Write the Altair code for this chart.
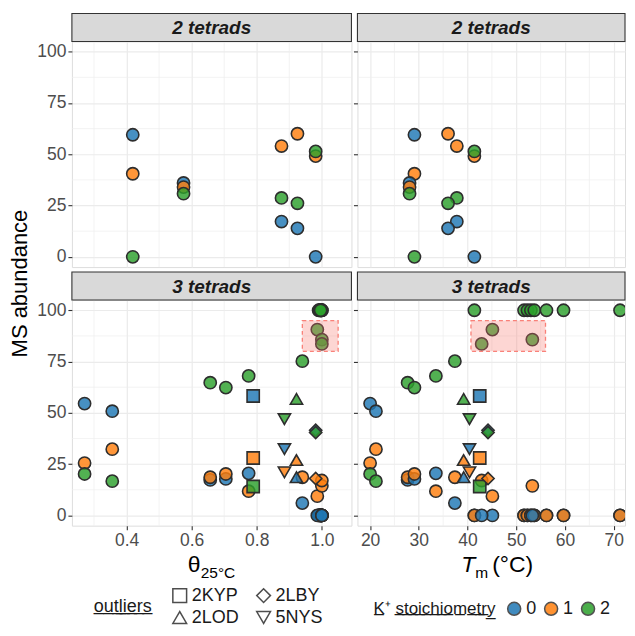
import altair as alt
import pandas as pd

FONT = "Liberation Sans"

# ---------------- data: 2 tetrads (one entry per sequence) ----------------
t2_theta = [0.419, 0.575, 0.876, 0.925, 0.981]
t2_tm = [29.1, 28.1, 37.8, 36.0, 41.4]
t2_k0 = [59.5, 36.0, 17.2, 13.9, 0.0]
t2_k1 = [40.5, 34.0, 54.0, 60.0, 49.1]
t2_k2 = [0.0, 30.8, 28.7, 26.1, 51.4]
t2_outlier = ["", "", "", "", ""]

# ---------------- data: 3 tetrads (one entry per sequence) ----------------
t3_theta = [0.271, 0.356, 0.657, 0.705, 0.775, 0.940, 0.789, 0.922, 0.885, 0.981,
            0.995, 0.990, 1.000, 0.997, 0.993, 1.000, 0.998, 0.996,
            0.986, 1.000, 1.000]
t3_tm = [20.0, 21.2, 27.7, 29.1, 33.5, 37.4, 42.5, 39.2, 40.4, 44.2,
         41.4, 51.6, 52.3, 53.0, 53.7, 56.2, 59.7, 71.3,
         45.1, 53.3, 42.9]
t3_k0 = [54.5, 50.8, 17.3, 17.8, 20.5, 6.0, 58.2, 18.6, 32.3, 41.5,
         0, 0, 0, 0, 0, 0, 0, 0,
         0, 0, 0]
t3_k1 = [25.5, 32.3, 18.6, 20.2, 11.8, 18.6, 28.0, 27.0, 21.0, 18.0,
         0, 0, 0, 0, 0, 0, 0, 0,
         9.4, 14.4, 17.0]
t3_k2 = [20.2, 16.7, 64.7, 62.3, 68.0, 75.2, 14.1, 56.8, 46.9, 40.4,
         100, 100, 100, 100, 100, 100, 100, 100,
         90.6, 85.7, 83.6]
t3_outlier = ["", "", "", "", "", "", "2KYP", "2LOD", "5NYS", "2LBY",
              "", "", "", "", "", "", "", "",
              "", "", ""]

# highlighted region (bottom panels)
region_theta = [0.94, 1.05]
region_tm = [40.7, 56.0]
region_ms = [80, 95]

k_levels = ["0", "1", "2"]
k_colors = ["#1F77B4", "#FF7F0E", "#2CA02C"]
outlier_levels = ["2KYP", "2LBY", "2LOD", "5NYS"]
outlier_shapes = ["square", "diamond", "triangle-up", "triangle-down"]

# axis breaks
theta_major = [0.4, 0.6, 0.8, 1.0]
theta_minor = [0.3, 0.5, 0.7, 0.9]
tm_major = [20, 30, 40, 50, 60, 70]
tm_minor = [25, 35, 45, 55, 65]
y_major = [0, 25, 50, 75, 100]
y_minor = [12.5, 37.5, 62.5, 87.5]


def long_table(theta, tm, k0, k1, k2, outl):
    rows = []
    for i in range(len(theta)):
        for k, vals in zip(k_levels, (k0, k1, k2)):
            rows.append({"seq": i, "theta": theta[i], "tm": tm[i],
                         "abundance": vals[i], "K": k, "outlier": outl[i]})
    return pd.DataFrame(rows)


df2 = long_table(t2_theta, t2_tm, t2_k0, t2_k1, t2_k2, t2_outlier)
df3 = long_table(t3_theta, t3_tm, t3_k0, t3_k1, t3_k2, t3_outlier)
df3_circ = df3[df3["outlier"] == ""]
df3_out = df3[df3["outlier"] != ""]

W_L, W_R, H = 280, 268, 226
THETA_DOM = [0.232, 0.232 + W_L / 326.0]
TM_DOM = [17.40, 17.40 + W_R / 4.88]
Y_DOM = [-5, 105]


def make_axis(vals, fmt, labels, ticks):
    return alt.Axis(values=vals, format=fmt, title=None, domain=False, grid=True,
                    gridColor="#EBEBEB", gridWidth=1.2,
                    labels=labels, ticks=ticks, labelFlush=False, labelOverlap=False,
                    tickSize=4, tickColor="#333333", tickWidth=1.1, labelPadding=2,
                    labelFont=FONT, labelFontSize=17.5, labelColor="#4D4D4D")


color_legend = alt.Legend(
    title="K̲⁺ s̲t̲o̲i̲c̲h̲i̲o̲m̲e̲t̲r̲y̲", orient="none", legendX=302, legendY=559,
    direction="horizontal", titleOrient="left", titleAnchor="middle",
    titleFont=FONT, titleFontSize=17, titleFontWeight="normal", titleColor="#1A1A1A",
    titlePadding=9, labelFont=FONT, labelFontSize=18, labelColor="#1A1A1A",
    symbolType="circle", symbolSize=170, symbolStrokeColor="#333333",
    symbolStrokeWidth=1.5, symbolOpacity=0.85, labelOffset=3, columnPadding=4)

shape_legend = alt.Legend(
    title="o̲u̲t̲l̲i̲e̲r̲s̲", orient="none", legendX=22, legendY=546,
    direction="horizontal", columns=2, titleOrient="left", titleAnchor="middle",
    titleFont=FONT, titleFontSize=18, titleFontWeight="normal", titleColor="#1A1A1A",
    titlePadding=18, labelFont=FONT, labelFontSize=18, labelColor="#1A1A1A",
    symbolSize=190, symbolFillColor="transparent", symbolStrokeColor="#4D4D4D",
    symbolStrokeWidth=1.5, labelOffset=3, columnPadding=14, rowPadding=3)

color_enc = alt.Color("K:N", scale=alt.Scale(domain=k_levels, range=k_colors),
                      legend=color_legend)
y_scale = alt.Scale(domain=Y_DOM, nice=False, zero=False)
y_axis_left = make_axis(y_major, "d", True, True)
y_axis_right = make_axis(y_major, "d", False, True)

point_style = dict(filled=True, size=150, fillOpacity=0.82, stroke="#2E2E2E",
                   strokeWidth=1.6, clip=True)


def strip(label, w):
    sdf = pd.DataFrame({"label": [label]})
    r = alt.Chart(sdf).mark_rect(fill="#D9D9D9", stroke="#333333", strokeWidth=1.1).encode(
        x=alt.value(0), x2=alt.value(w), y=alt.value(-28), y2=alt.value(0))
    t = alt.Chart(sdf).mark_text(font=FONT, fontSize=19, fontWeight="bold",
                                 fontStyle="italic", color="#1A1A1A", baseline="middle").encode(
        x=alt.value(w / 2), y=alt.value(-13.5), text="label:N")
    return [r, t]


def text_layer(txt, x, y, size, **kw):
    tdf = pd.DataFrame({"t": [txt]})
    return alt.Chart(tdf).mark_text(font=FONT, fontSize=size, color="#000000", **kw).encode(
        x=alt.value(x), y=alt.value(y), text="t:N")


def panel(df_c, df_o, field, dom, major, minor, fmt, bottom, left, label, w,
          region=None, extra=()):
    x_scale = alt.Scale(domain=dom, nice=False, zero=False)
    x_axis = make_axis(major, fmt, bottom, bottom)
    y_axis = y_axis_left if left else y_axis_right
    x = alt.X(f"{field}:Q", scale=x_scale, axis=x_axis)
    y = alt.Y("abundance:Q", scale=y_scale, axis=y_axis)
    layers = [
        # minor grid lines
        alt.Chart(pd.DataFrame({"v": minor})).mark_rule(color="#EEEEEE", strokeWidth=0.7).encode(
            x=alt.X("v:Q", scale=x_scale, axis=x_axis), y=alt.value(0), y2=alt.value(H)),
        alt.Chart(pd.DataFrame({"v": y_minor})).mark_rule(color="#EEEEEE", strokeWidth=0.7).encode(
            y=alt.Y("v:Q", scale=y_scale, axis=y_axis), x=alt.value(0), x2=alt.value(w)),
        alt.Chart(df_c).mark_point(shape="circle", **point_style).encode(
            x=x, y=y, color=color_enc),
    ]
    if df_o is not None:
        layers.append(alt.Chart(df_o).mark_point(**point_style).encode(
            x=x, y=y, color=color_enc,
            shape=alt.Shape("outlier:N", scale=alt.Scale(domain=outlier_levels, range=outlier_shapes),
                            legend=shape_legend)))
    if region is not None:
        rdf = pd.DataFrame({"x1": [region[0]], "x2": [region[1]],
                            "y1": [region_ms[0]], "y2": [region_ms[1]]})
        layers.append(alt.Chart(rdf).mark_rect(fill="#F8766D", fillOpacity=0.3,
                                               stroke="#F8766D", strokeOpacity=0.9,
                                               strokeDash=[4, 3], strokeWidth=1.3).encode(
            x=alt.X("x1:Q", scale=x_scale, axis=x_axis), x2="x2:Q",
            y=alt.Y("y1:Q", scale=y_scale, axis=y_axis), y2="y2:Q"))
    layers += strip(label, w)
    layers += list(extra)
    return alt.layer(*layers).properties(width=w, height=H)


ytitle = text_layer("MS abundance", -52, H + 16.5, 22, angle=270, baseline="middle", align="center")

theta_title = [text_layer("θ", 116, H + 46, 23, align="left", baseline="alphabetic"),
               text_layer("25°C", 129, H + 52, 15.5, align="left", baseline="alphabetic")]
tm_title = [text_layer("T", 104, H + 46, 23, align="left", baseline="alphabetic", fontStyle="italic"),
            text_layer("m", 118, H + 52, 15.5, align="left", baseline="alphabetic"),
            text_layer("(°C)", 135, H + 46, 23, align="left", baseline="alphabetic")]

TL = panel(df2, None, "theta", THETA_DOM, theta_major, theta_minor, ".1f", False, True,
           "2 tetrads", W_L, extra=[ytitle])
TR = panel(df2, None, "tm", TM_DOM, tm_major, tm_minor, "d", False, False,
           "2 tetrads", W_R)
BL = panel(df3_circ, df3_out, "theta", THETA_DOM, theta_major, theta_minor, ".1f", True, True,
           "3 tetrads", W_L, region=region_theta, extra=theta_title)
BR = panel(df3_circ, df3_out, "tm", TM_DOM, tm_major, tm_minor, "d", True, False,
           "3 tetrads", W_R, region=region_tm, extra=tm_title)

chart = alt.concat(TL, TR, BL, BR, columns=2, spacing={"row": 33, "column": 6},
                   bounds="flush").properties(
    padding={"left": 0, "top": 3, "right": 0, "bottom": 0}
).configure_view(stroke="#333333", strokeWidth=1.1).configure(font=FONT)

chart.save("out.html", embed_options={"renderer": "svg", "actions": False})
